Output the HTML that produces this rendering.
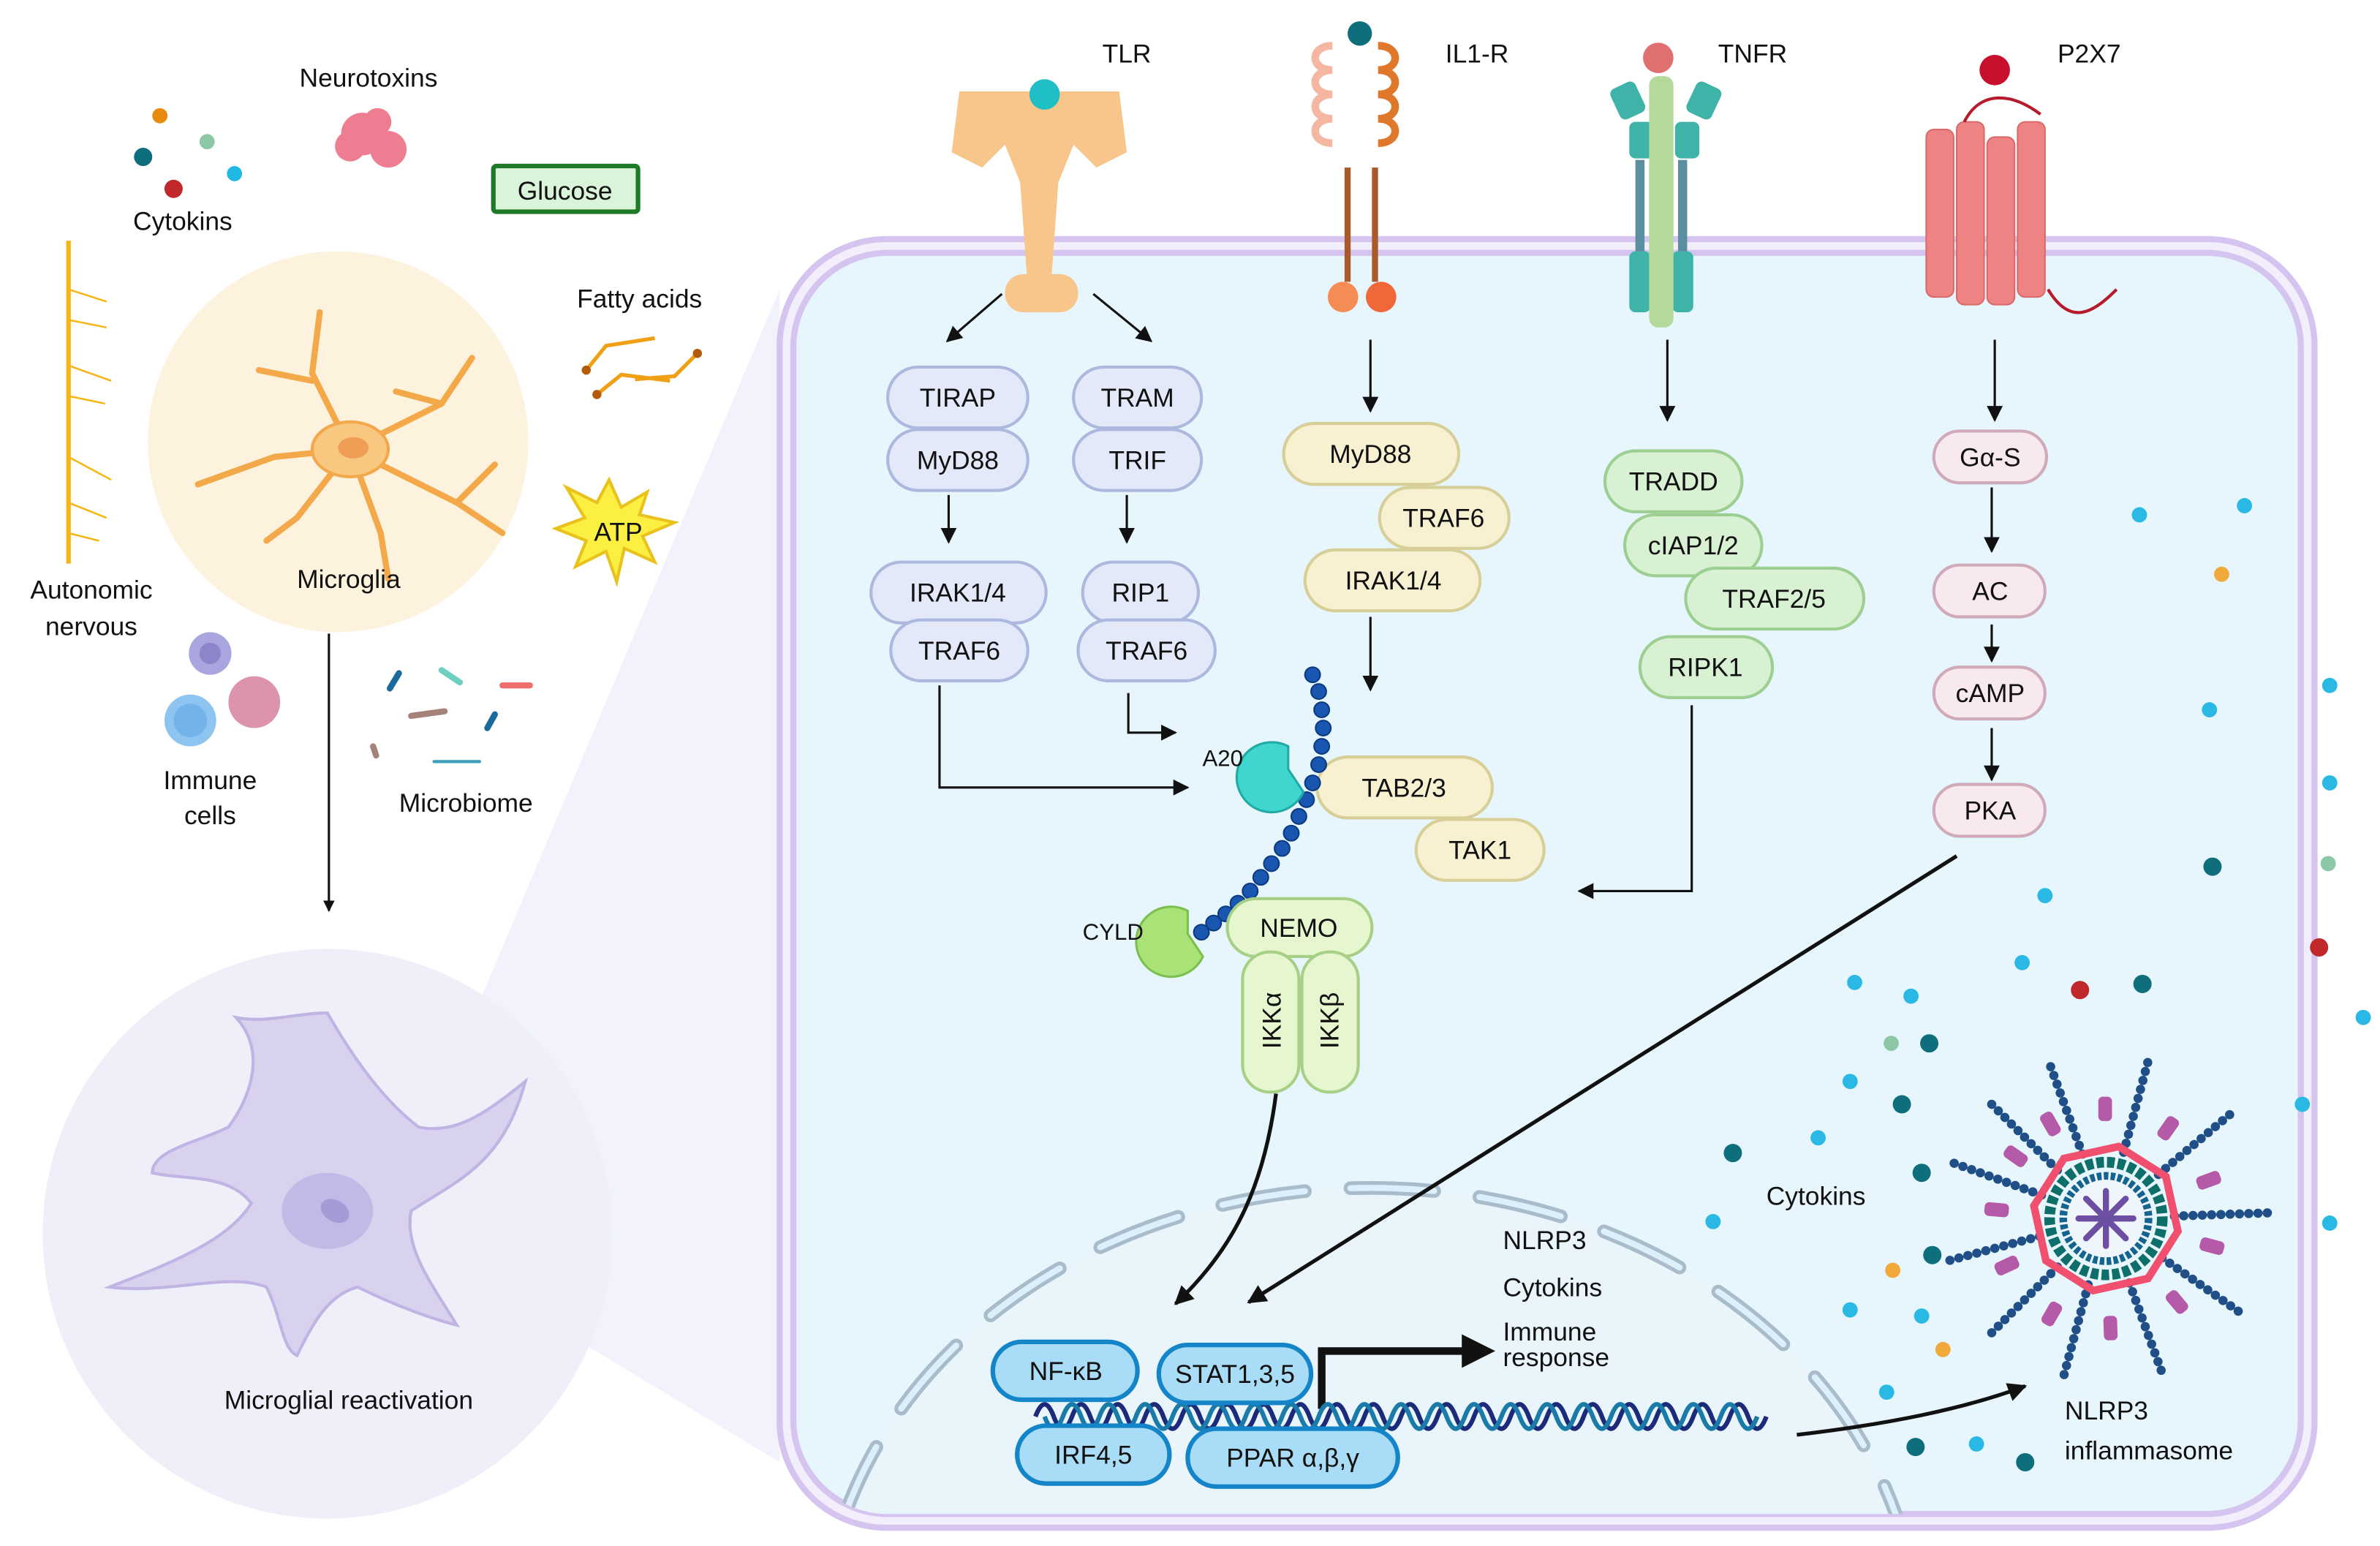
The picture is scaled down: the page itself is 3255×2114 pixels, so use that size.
<!DOCTYPE html>
<html><head><meta charset="utf-8"><style>
html,body{margin:0;padding:0;background:#fff;width:3255px;height:2114px;overflow:hidden;}
svg{display:block;}
text{font-family:"Liberation Sans",sans-serif;fill:#111;}
</style></head><body>
<svg width="3255" height="2114" viewBox="0 0 1563 1015" preserveAspectRatio="none" xmlns="http://www.w3.org/2000/svg" overflow="hidden">
<defs>
<marker id="a" viewBox="0 0 10 10" refX="9" refY="5" markerWidth="7" markerHeight="7" orient="auto"><path d="M0,0L10,5L0,10z" fill="#111"/></marker>
<marker id="b" viewBox="0 0 10 10" refX="9" refY="5" markerWidth="5" markerHeight="5" orient="auto"><path d="M0,0L10,5L0,10z" fill="#111"/></marker>
<clipPath id="cc"><rect x="521" y="166" width="990" height="828" rx="62"/></clipPath>
</defs>
<rect width="1563" height="1015" fill="#fff"/>
<!-- zoom wedge -->
<polygon points="295,705 512,190 512,960 330,850" fill="#f1f2fb"/>
<circle cx="215" cy="810" r="187" fill="#eeeff9"/>
<!-- cell -->
<rect x="512" y="157" width="1008" height="846" rx="70" fill="#f3eefc" stroke="#d5c4f0" stroke-width="4"/>
<rect x="521" y="166" width="990" height="828" rx="62" fill="#e6f6fc" stroke="#d5c4f0" stroke-width="4"/>
<!-- nucleus -->
<g clip-path="url(#cc)">
<ellipse cx="900" cy="1080" rx="360" ry="300" fill="#eaf5fb"/>
<path d="M553,1000 A360,300 0 0 1 1247,1000" fill="none" stroke="#a9bccb" stroke-width="9" stroke-linecap="round" stroke-dasharray="55,30"/>
<path d="M553,1000 A360,300 0 0 1 1247,1000" fill="none" stroke="#ddeffa" stroke-width="4" stroke-linecap="round" stroke-dasharray="55,30"/>
</g>
<!-- left labels -->
<text x="242" y="57" font-size="17" text-anchor="middle">Neurotoxins</text>
<g fill="#ef7d92"><circle cx="238" cy="88" r="14"/><circle cx="255" cy="98" r="12"/><circle cx="230" cy="96" r="10"/><circle cx="248" cy="80" r="9"/></g>
<circle cx="105" cy="76" r="5" fill="#e88a0d"/><circle cx="136" cy="93" r="5" fill="#8cc7a6"/><circle cx="94" cy="103" r="6" fill="#0e6e7c"/><circle cx="154" cy="114" r="5" fill="#20b8e5"/><circle cx="114" cy="124" r="6" fill="#c0282c"/>
<text x="120" y="151" font-size="17" text-anchor="middle">Cytokins</text>
<rect x="324" y="109" width="95" height="30" fill="#d9f4d8" stroke="#1f7a28" stroke-width="3" rx="2"/>
<text x="371" y="131" font-size="17" text-anchor="middle">Glucose</text>
<text x="420" y="202" font-size="17" text-anchor="middle">Fatty acids</text>
<g stroke="#f0a015" stroke-width="2.5" fill="none"><path d="M385,243L398,227L430,222"/><path d="M417,249L443,247L458,232"/><path d="M392,259L408,246L440,250"/></g>
<g fill="#b35a0b"><circle cx="385" cy="243" r="3"/><circle cx="458" cy="232" r="3"/><circle cx="392" cy="259" r="3"/></g>
<polygon points="400,315 408,333 425,323 420,338 443,343 422,352 430,369 410,360 405,382 398,362 378,372 385,355 365,347 384,340 372,320 392,330" fill="#fbf042" stroke="#e9c21d" stroke-width="2"/>
<text x="406" y="355" font-size="17" text-anchor="middle">ATP</text>
<path d="M45,158 L45,370" stroke="#f5b515" stroke-width="3"/>
<g stroke="#f5b515" stroke-width="1.2" fill="none"><path d="M45,190l25,8M45,210l25,5M45,240l28,10M45,260l24,5M45,300l28,15M45,330l25,10M45,350l20,5"/></g>
<text x="60" y="393" font-size="17" text-anchor="middle">Autonomic</text>
<text x="60" y="417" font-size="17" text-anchor="middle">nervous</text>
<circle cx="222" cy="290" r="125" fill="#fdf2dd"/>
<g stroke="#f3a84a" stroke-width="4" fill="none" stroke-linecap="round"><path d="M230,295L205,245L210,205"/><path d="M230,295L180,300L130,318"/><path d="M230,295L290,265L310,235"/><path d="M230,295L300,330L330,350"/><path d="M230,295L250,350L255,380"/><path d="M230,295L195,340L175,355"/><path d="M205,250L170,243"/><path d="M290,265L260,257"/><path d="M300,330L325,305"/></g>
<ellipse cx="230" cy="295" rx="25" ry="18" fill="#f8c780" stroke="#f3a84a" stroke-width="2"/>
<ellipse cx="232" cy="294" rx="10" ry="7" fill="#ee9e55"/>
<text x="229" y="386" font-size="17" text-anchor="middle">Microglia</text>
<circle cx="138" cy="429" r="14" fill="#a9a5de"/><circle cx="138" cy="429" r="7" fill="#8b86c9"/>
<circle cx="167" cy="461" r="17" fill="#dd93ad"/><circle cx="125" cy="473" r="17" fill="#8ec4f0"/><circle cx="125" cy="473" r="11" fill="#74b2ea"/>
<text x="138" y="518" font-size="17" text-anchor="middle">Immune</text><text x="138" y="541" font-size="17" text-anchor="middle">cells</text>
<g stroke-width="4" stroke-linecap="round"><path d="M256,452l6,-10" stroke="#1a6a9c"/><path d="M290,440l12,8" stroke="#6ccfc0"/><path d="M330,450l18,0" stroke="#ee6d6d"/><path d="M270,470l22,-3" stroke="#a4827a"/><path d="M320,478l5,-9" stroke="#1a6a9c"/><path d="M245,490l2,6" stroke="#a4827a"/><path d="M285,500l30,0" stroke="#3aa0b8" stroke-width="2"/></g>
<text x="306" y="533" font-size="17" text-anchor="middle">Microbiome</text>
<line x1="216" y1="416" x2="216" y2="598" stroke="#111" stroke-width="1.5" marker-end="url(#b)"/>
<!-- reactive microglia -->
<path d="M155,668 C175,690 165,720 150,740 C130,750 100,755 100,770 C120,775 150,770 165,790 C150,815 110,830 72,845 C110,850 150,835 175,845 C185,865 185,885 195,890 C205,870 215,850 235,845 C255,855 280,865 300,870 C285,845 265,820 270,795 C300,775 330,765 345,710 C320,730 300,745 275,740 C255,725 235,700 215,665 C195,665 175,672 155,668 Z" fill="#d9d2ef" stroke="#bfb4e3" stroke-width="2"/>
<ellipse cx="215" cy="795" rx="30" ry="25" fill="#c3b9e6"/><ellipse cx="220" cy="795" rx="10" ry="7" fill="#a59ad6" transform="rotate(30 220 795)"/>
<text x="229" y="925" font-size="17" text-anchor="middle">Microglial reactivation</text>
<!-- receptors labels -->
<text x="740" y="41" font-size="17" text-anchor="middle">TLR</text>
<text x="970" y="41" font-size="17" text-anchor="middle">IL1-R</text>
<text x="1151" y="41" font-size="17" text-anchor="middle">TNFR</text>
<text x="1372" y="41" font-size="17" text-anchor="middle">P2X7</text>
<!-- TLR -->
<path d="M630,60 L735,60 L740,100 L720,110 L705,95 L695,120 L690,190 L675,190 L670,120 L660,95 L645,110 L625,100 Z" fill="#f8c58a"/>
<rect x="660" y="180" width="48" height="25" rx="12" fill="#f8c58a"/>
<circle cx="686" cy="62" r="10" fill="#20bfc6"/>
<!-- IL1-R -->
<g fill="none" stroke-width="5"><path d="M875,30 c-15,0 -15,16 0,16 c-15,0 -15,16 0,16 c-15,0 -15,16 0,16 c-15,0 -15,16 0,16" stroke="#f5b7a2"/><path d="M905,30 c15,0 15,16 0,16 c15,0 15,16 0,16 c15,0 15,16 0,16 c15,0 15,16 0,16" stroke="#e0782c"/></g>
<circle cx="893" cy="22" r="8" fill="#0e6e7c"/>
<rect x="883" y="110" width="4" height="75" fill="#a85a2a"/><rect x="901" y="110" width="4" height="75" fill="#a85a2a"/>
<circle cx="882" cy="195" r="10" fill="#f58b55"/><circle cx="907" cy="195" r="10" fill="#f0683a"/>
<!-- TNFR -->
<circle cx="1089" cy="38" r="10" fill="#e07070"/>
<g fill="#3fb3a8"><rect x="1060" y="55" width="18" height="22" rx="4" transform="rotate(-25 1069 66)"/><rect x="1110" y="55" width="18" height="22" rx="4" transform="rotate(25 1119 66)"/><rect x="1070" y="80" width="16" height="24" rx="4"/><rect x="1100" y="80" width="16" height="24" rx="4"/><rect x="1070" y="165" width="14" height="40" rx="4"/><rect x="1098" y="165" width="14" height="40" rx="4"/></g>
<rect x="1083" y="50" width="16" height="165" rx="6" fill="#b5d99a"/>
<rect x="1074" y="105" width="6" height="60" fill="#5a8ea0"/><rect x="1102" y="105" width="6" height="60" fill="#5a8ea0"/>
<!-- P2X7 -->
<circle cx="1310" cy="46" r="10" fill="#c8102e"/>
<g fill="#ef8383" stroke="#d86a6a" stroke-width="1"><rect x="1265" y="85" width="18" height="110" rx="5"/><rect x="1285" y="80" width="18" height="120" rx="5"/><rect x="1305" y="90" width="18" height="110" rx="5"/><rect x="1325" y="80" width="18" height="115" rx="5"/></g>
<path d="M1290,80 C1300,60 1320,60 1340,75 M1345,190 C1360,215 1375,205 1390,190" stroke="#b51b2a" stroke-width="2" fill="none"/>
<!-- arrows receptors -->
<g stroke="#111" stroke-width="1.5" fill="none">
<path d="M658,193L622,224" marker-end="url(#a)"/><path d="M718,193L756,224" marker-end="url(#a)"/>
<path d="M623,325V356" marker-end="url(#a)"/><path d="M740,325V356" marker-end="url(#a)"/>
<path d="M900,223V270" marker-end="url(#a)"/><path d="M1095,223V276" marker-end="url(#a)"/><path d="M1310,223V276" marker-end="url(#a)"/>
<path d="M1308,320V362" marker-end="url(#a)"/><path d="M1308,410V434" marker-end="url(#a)"/><path d="M1308,478V512" marker-end="url(#a)"/>
<path d="M900,405V453" marker-end="url(#a)"/>
<path d="M617,450V517H780" marker-end="url(#a)"/><path d="M741,455V481H772" marker-end="url(#a)"/>
<path d="M1111,463V585H1037" marker-end="url(#a)"/>
</g>
<g stroke="#111" stroke-width="2.5" fill="none">
<path d="M838,718 C830,780 810,820 772,856" marker-end="url(#b)"/>
<path d="M1285,562 L820,855" marker-end="url(#b)"/>
<path d="M1180,942 C1240,935 1290,925 1330,910" marker-end="url(#b)"/>
</g>
<path d="M868,925V887H962" stroke="#111" stroke-width="5" fill="none"/><polygon points="960,876 982,887 960,898" fill="#111"/>
<!-- TLR pills -->
<g stroke="#adb8de" stroke-width="2" fill="#e3e9f8">
<rect x="583" y="241" width="92" height="40" rx="20"/><rect x="583" y="282" width="92" height="40" rx="20"/>
<rect x="705" y="241" width="84" height="40" rx="20"/><rect x="705" y="282" width="84" height="40" rx="20"/>
<rect x="572" y="369" width="115" height="40" rx="20"/><rect x="585" y="407" width="90" height="40" rx="20"/>
<rect x="711" y="369" width="76" height="40" rx="20"/><rect x="708" y="407" width="90" height="40" rx="20"/>
</g>
<g font-size="17" text-anchor="middle"><text x="629" y="267">TIRAP</text><text x="629" y="308">MyD88</text><text x="747" y="267">TRAM</text><text x="747" y="308">TRIF</text><text x="629" y="395">IRAK1/4</text><text x="630" y="433">TRAF6</text><text x="749" y="395">RIP1</text><text x="753" y="433">TRAF6</text></g>
<!-- IL1R pills -->
<g stroke="#d8cf98" stroke-width="2" fill="#f7f1d2">
<rect x="843" y="278" width="115" height="40" rx="20"/><rect x="906" y="320" width="85" height="40" rx="20"/><rect x="857" y="361" width="115" height="40" rx="20"/>
<rect x="865" y="497" width="115" height="40" rx="20"/><rect x="930" y="538" width="84" height="40" rx="20"/>
</g>
<g font-size="17" text-anchor="middle"><text x="900" y="304">MyD88</text><text x="948" y="346">TRAF6</text><text x="915" y="387">IRAK1/4</text><text x="922" y="523">TAB2/3</text><text x="972" y="564">TAK1</text></g>
<!-- TNFR pills -->
<g stroke="#9dcf93" stroke-width="2" fill="#d8f1d2">
<rect x="1054" y="296" width="90" height="40" rx="20"/><rect x="1067" y="338" width="90" height="40" rx="20"/><rect x="1107" y="373" width="117" height="40" rx="20"/><rect x="1077" y="418" width="87" height="40" rx="20"/>
</g>
<g font-size="17" text-anchor="middle"><text x="1099" y="322">TRADD</text><text x="1112" y="364">cIAP1/2</text><text x="1165" y="399">TRAF2/5</text><text x="1120" y="444">RIPK1</text></g>
<!-- P2X7 pills -->
<g stroke="#cfaabb" stroke-width="2" fill="#f8e9ef">
<rect x="1270" y="283" width="74" height="34" rx="17"/><rect x="1270" y="371" width="73" height="34" rx="17"/><rect x="1270" y="438" width="73" height="34" rx="17"/><rect x="1270" y="515" width="73" height="34" rx="17"/>
</g>
<g font-size="17" text-anchor="middle"><text x="1307" y="306">Gα-S</text><text x="1307" y="394">AC</text><text x="1307" y="461">cAMP</text><text x="1307" y="538">PKA</text></g>
<!-- ubiquitin chain -->
<g fill="#1856b0" stroke="#0b3a80" stroke-width="1">
<circle cx="862" cy="443" r="5"/><circle cx="866" cy="454" r="5"/><circle cx="868" cy="466" r="5"/><circle cx="869" cy="478" r="5"/><circle cx="868" cy="490" r="5"/><circle cx="866" cy="502" r="5"/><circle cx="862" cy="514" r="5"/><circle cx="858" cy="525" r="5"/><circle cx="853" cy="536" r="5"/><circle cx="848" cy="547" r="5"/><circle cx="842" cy="557" r="5"/><circle cx="835" cy="567" r="5"/><circle cx="828" cy="576" r="5"/><circle cx="821" cy="585" r="5"/><circle cx="813" cy="593" r="5"/><circle cx="805" cy="600" r="5"/><circle cx="797" cy="606" r="5"/><circle cx="789" cy="612" r="5"/>
</g>
<path d="M846,490 A23,23 0 1 0 856,520 L846,505 Z" fill="#3ed6cf" stroke="#22aaa5" stroke-width="1.5"/>
<text x="803" y="503" font-size="15" text-anchor="middle">A20</text>
<path d="M780,598 A23,23 0 1 0 790,628 L780,613 Z" fill="#a9e378" stroke="#7cbf50" stroke-width="1.5"/>
<text x="731" y="617" font-size="15" text-anchor="middle">CYLD</text>
<g stroke="#a7cf86" stroke-width="2" fill="#e6f6cf">
<rect x="806" y="590" width="95" height="38" rx="19"/><rect x="816" y="625" width="37" height="92" rx="18"/><rect x="855" y="625" width="37" height="92" rx="18"/>
</g>
<text x="853" y="615" font-size="17" text-anchor="middle">NEMO</text>
<text transform="translate(841,670) rotate(-90)" font-size="17" text-anchor="middle">IKKα</text>
<text transform="translate(879,670) rotate(-90)" font-size="17" text-anchor="middle">IKKβ</text>
<!-- DNA -->
<path d="M680,922 q6,-16 12,0 t12,0 t12,0 t12,0 t12,0 t12,0 t12,0 t12,0 t12,0 t12,0 t12,0 t12,0 t12,0 t12,0 t12,0 t12,0 t12,0 t12,0 t12,0 t12,0 t12,0 t12,0 t12,0 t12,0 t12,0 t12,0 t12,0 t12,0 t12,0 t12,0 t12,0 t12,0 t12,0 t12,0 t12,0 t12,0 t12,0 t12,0 t12,0 t12,0" transform="translate(0,8)" fill="none" stroke="#1b2b7a" stroke-width="3"/>
<path d="M686,922 q6,16 12,0 t12,0 t12,0 t12,0 t12,0 t12,0 t12,0 t12,0 t12,0 t12,0 t12,0 t12,0 t12,0 t12,0 t12,0 t12,0 t12,0 t12,0 t12,0 t12,0 t12,0 t12,0 t12,0 t12,0 t12,0 t12,0 t12,0 t12,0 t12,0 t12,0 t12,0 t12,0 t12,0 t12,0 t12,0 t12,0 t12,0 t12,0 t12,0" transform="translate(0,8)" fill="none" stroke="#1a7aa8" stroke-width="3"/>
<g stroke="#1385c8" stroke-width="3" fill="#a9dcf6">
<rect x="652" y="881" width="95" height="38" rx="19"/><rect x="761" y="883" width="100" height="38" rx="19"/><rect x="668" y="936" width="100" height="38" rx="19"/><rect x="780" y="938" width="138" height="38" rx="19"/>
</g>
<g font-size="17" text-anchor="middle"><text x="700" y="906">NF-κB</text><text x="811" y="908">STAT1,3,5</text><text x="718" y="961">IRF4,5</text><text x="849" y="963">PPAR α,β,γ</text></g>
<g font-size="17"><text x="987" y="820">NLRP3</text><text x="987" y="851">Cytokins</text><text x="987" y="880">Immune</text><text x="987" y="897">response</text>
<text x="1160" y="791">Cytokins</text><text x="1356" y="932">NLRP3</text><text x="1356" y="958">inflammasome</text></g>
<!-- dots -->
<g>
<circle cx="1405" cy="338" r="5" fill="#2ab8e4"/><circle cx="1474" cy="332" r="5" fill="#2ab8e4"/><circle cx="1459" cy="377" r="5" fill="#f0a93a"/><circle cx="1451" cy="466" r="5" fill="#2ab8e4"/><circle cx="1530" cy="450" r="5" fill="#2ab8e4"/><circle cx="1530" cy="514" r="5" fill="#2ab8e4"/><circle cx="1453" cy="569" r="6" fill="#0e6e7c"/><circle cx="1529" cy="567" r="5" fill="#8cc7a6"/><circle cx="1343" cy="588" r="5" fill="#2ab8e4"/><circle cx="1523" cy="622" r="6" fill="#c0282c"/><circle cx="1328" cy="632" r="5" fill="#2ab8e4"/><circle cx="1366" cy="650" r="6" fill="#c0282c"/><circle cx="1407" cy="646" r="6" fill="#0e6e7c"/><circle cx="1552" cy="668" r="5" fill="#2ab8e4"/><circle cx="1218" cy="645" r="5" fill="#2ab8e4"/><circle cx="1255" cy="654" r="5" fill="#2ab8e4"/><circle cx="1242" cy="685" r="5" fill="#8cc7a6"/><circle cx="1267" cy="685" r="6" fill="#0e6e7c"/><circle cx="1215" cy="710" r="5" fill="#2ab8e4"/><circle cx="1249" cy="725" r="6" fill="#0e6e7c"/><circle cx="1194" cy="747" r="5" fill="#2ab8e4"/><circle cx="1138" cy="757" r="6" fill="#0e6e7c"/><circle cx="1262" cy="770" r="6" fill="#0e6e7c"/><circle cx="1125" cy="802" r="5" fill="#2ab8e4"/><circle cx="1269" cy="824" r="6" fill="#0e6e7c"/><circle cx="1243" cy="834" r="5" fill="#f0a93a"/><circle cx="1215" cy="860" r="5" fill="#2ab8e4"/><circle cx="1262" cy="864" r="5" fill="#2ab8e4"/><circle cx="1276" cy="886" r="5" fill="#f0a93a"/><circle cx="1239" cy="914" r="5" fill="#2ab8e4"/><circle cx="1258" cy="950" r="6" fill="#0e6e7c"/><circle cx="1298" cy="948" r="5" fill="#2ab8e4"/><circle cx="1330" cy="960" r="6" fill="#0e6e7c"/><circle cx="1512" cy="725" r="5" fill="#2ab8e4"/><circle cx="1530" cy="803" r="5" fill="#2ab8e4"/>
</g>
<!-- inflammasome -->
<g transform="translate(1383,800)">
<g stroke="#1f4f86" stroke-width="6" stroke-linecap="round" stroke-dasharray="0.1,6">
<path d="M0,-45V-110" transform="rotate(-20)"/><path d="M0,-45V-110" transform="rotate(15)"/><path d="M0,-45V-110" transform="rotate(50)"/><path d="M0,-45V-110" transform="rotate(88)"/><path d="M0,-45V-110" transform="rotate(125)"/><path d="M0,-45V-110" transform="rotate(160)"/><path d="M0,-45V-110" transform="rotate(195)"/><path d="M0,-45V-110" transform="rotate(225)"/><path d="M0,-45V-110" transform="rotate(255)"/><path d="M0,-45V-110" transform="rotate(290)"/><path d="M0,-45V-110" transform="rotate(315)"/>
</g>
<g fill="#b45aa8"><rect x="-5" y="-80" width="9" height="16" rx="3" transform="rotate(0)"/><rect x="-5" y="-80" width="9" height="16" rx="3" transform="rotate(35)"/><rect x="-5" y="-80" width="9" height="16" rx="3" transform="rotate(70)"/><rect x="-5" y="-80" width="9" height="16" rx="3" transform="rotate(105)"/><rect x="-5" y="-80" width="9" height="16" rx="3" transform="rotate(140)"/><rect x="-5" y="-80" width="9" height="16" rx="3" transform="rotate(178)"/><rect x="-5" y="-80" width="9" height="16" rx="3" transform="rotate(210)"/><rect x="-5" y="-80" width="9" height="16" rx="3" transform="rotate(245)"/><rect x="-5" y="-80" width="9" height="16" rx="3" transform="rotate(275)"/><rect x="-5" y="-80" width="9" height="16" rx="3" transform="rotate(305)"/><rect x="-5" y="-80" width="9" height="16" rx="3" transform="rotate(330)"/></g>
<polygon points="0,-48 34,-34 48,0 34,34 0,48 -34,34 -48,0 -34,-34" fill="none" stroke="#f0506e" stroke-width="5" transform="rotate(10)"/>
<circle r="37" fill="none" stroke="#0d6e6a" stroke-width="7" stroke-dasharray="5,2"/>
<circle r="28" fill="#eef6fb" stroke="#15648f" stroke-width="5" stroke-dasharray="3,1.5"/>
<g stroke="#6c4ea3" stroke-width="4" stroke-linecap="round"><path d="M-18,0H18M0,-18V18M-13,-13L13,13M13,-13L-13,13"/></g>
</g>
</svg>
</body></html>
